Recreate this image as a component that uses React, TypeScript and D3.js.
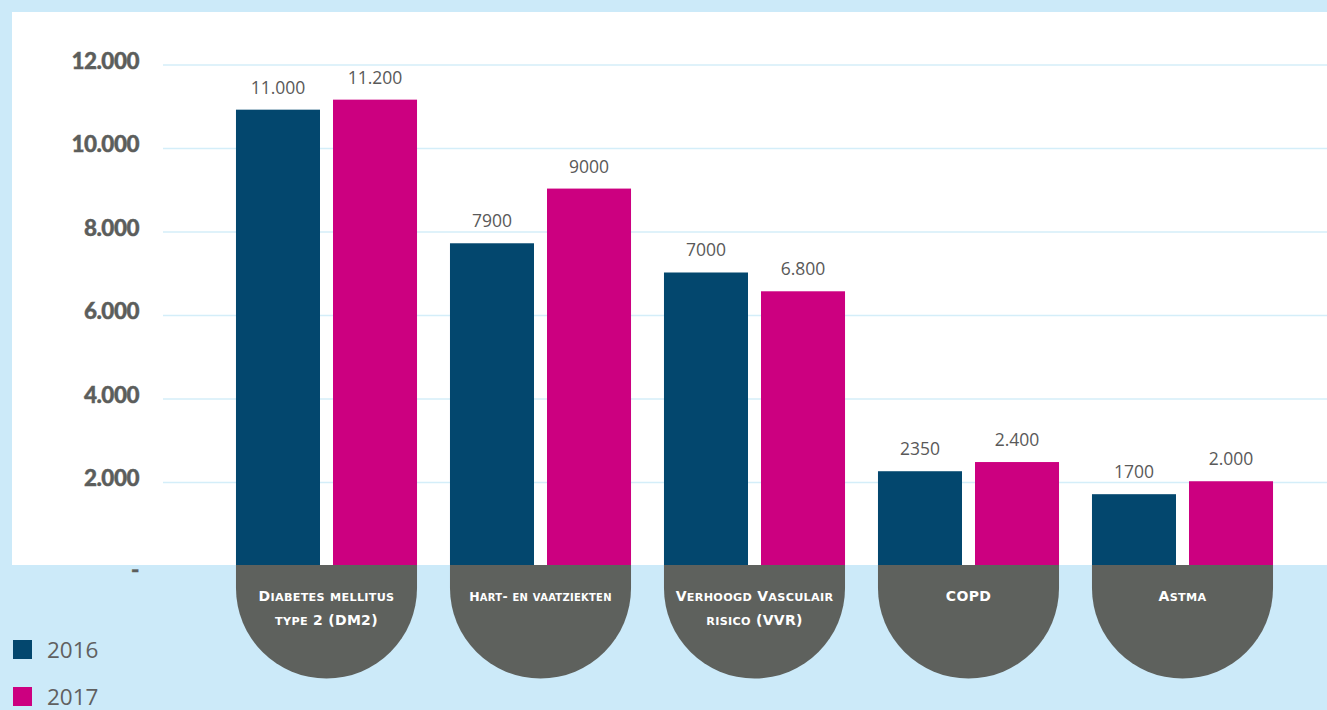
import { useEffect, useRef } from "react";
import * as d3 from "d3";

// categories: each label split into lines
const categories = ["DM2", "HVZ", "VVR", "COPD", "Astma"];
const categoryLines = [
  ["Diabetes mellitus", "type 2 (DM2)"],
  ["Hart- en vaatziekten"],
  ["Verhoogd Vasculair", "risico (VVR)"],
  ["COPD"],
  ["Astma"],
];
const series = ["2016", "2017"];
// bar heights
const values2016 = [10930, 7730, 7030, 2270, 1720];
const values2017 = [11170, 9040, 6580, 2490, 2030];
// the printed labels above the bars
const labels2016 = ["11.000", "7900", "7000", "2350", "1700"];
const labels2017 = ["11.200", "9000", "6.800", "2.400", "2.000"];
const yTicks = [0, 2000, 4000, 6000, 8000, 10000, 12000];
const yTickLabels = ["-", "2.000", "4.000", "6.000", "8.000", "10.000", "12.000"];

const W = 1327;
const H = 710;
const BG = "#cceaf9";
const COLORS = ["#03476e", "#cc0080"];
const PILL = "#5e615d";
const TEXT_GRAY = "#5c5e5c";

// split a string into runs of capitals / small caps
function smallCapRuns(s: string) {
  const runs: { t: string; small: boolean }[] = [];
  for (const ch of s) {
    const small = ch !== ch.toUpperCase();
    const last = runs[runs.length - 1];
    if (last && last.small === small) last.t += ch.toUpperCase();
    else runs.push({ t: ch.toUpperCase(), small });
  }
  return runs;
}

export default function App() {
  const svgRef = useRef<SVGSVGElement>(null);

  useEffect(() => {
    if (!svgRef.current) return;
    const svg = d3.select(svgRef.current);
    svg.selectAll("*").remove();

    const y = d3.scaleLinear().domain([0, 12000]).range([566, 65]);
    const x0 = d3
      .scaleBand<string>()
      .domain(categories)
      .range([219.5, 1289.5])
      .paddingInner(0.154)
      .paddingOuter(0.077);
    const x1 = d3
      .scaleBand<string>()
      .domain(series)
      .range([0, x0.bandwidth()])
      .paddingInner(0.134);

    const plotBottom = y(0) - 1;

    // background + white plot area
    svg.append("rect").attr("width", W).attr("height", H).attr("fill", BG);
    svg
      .append("rect")
      .attr("x", 12)
      .attr("y", 12)
      .attr("width", W - 12)
      .attr("height", plotBottom - 12)
      .attr("fill", "#ffffff");

    // gridlines
    svg
      .append("g")
      .selectAll("line")
      .data(yTicks.filter((t) => t > 0))
      .join("line")
      .attr("x1", 163)
      .attr("x2", W)
      .attr("y1", (d) => y(d))
      .attr("y2", (d) => y(d))
      .attr("stroke", "#d4eef9")
      .attr("stroke-width", 1.5);

    // y tick labels
    svg
      .append("g")
      .selectAll("text")
      .data(yTicks)
      .join("text")
      .attr("x", 139)
      .attr("y", (d) => (d === 0 ? y(d) + 12 : y(d) + 3.5))
      .attr("text-anchor", "end")
      .attr("font-family", "Lato, sans-serif")
      .attr("font-weight", 900)
      .attr("font-size", 22.5)
      .attr("letter-spacing", -0.5)
      .attr("stroke", TEXT_GRAY)
      .attr("stroke-width", 0.4)
      .attr("fill", TEXT_GRAY)
      .text((d, i) => yTickLabels[i]);

    // category "pills" below the axis
    const r = x0.bandwidth() / 2;
    const straight = 23;
    const pills = svg
      .append("g")
      .selectAll("g")
      .data(categories)
      .join("g")
      .attr("transform", (d) => `translate(${x0(d)},${plotBottom})`);

    pills
      .append("path")
      .attr(
        "d",
        `M0,0 H${2 * r} V${straight} A${r},${r} 0 0 1 0,${straight} Z`,
      )
      .attr("fill", PILL);

    pills.each(function (d, i) {
      const lines = categoryLines[i];
      const g = d3.select(this);
      lines.forEach((line, li) => {
        const big = 14;
        const small = 11.2;
        const t = g
          .append("text")
          .attr("x", r)
          .attr("y", 36 + li * 24)
          .attr("text-anchor", "middle")
          .attr("font-family", "'DejaVu Sans', sans-serif")
          .attr("font-weight", 700)
          .attr("letter-spacing", 0.3)
          .attr("fill", "#ffffff");
        const spans = t
          .selectAll("tspan")
          .data(smallCapRuns(line))
          .join("tspan")
          .attr("font-size", (s) => (s.small ? small : big))
          .text((s) => s.t);
        // single long lines are set smaller, as in the reference
        const node = t.node() as SVGTextElement;
        const w = node.getComputedTextLength();
        const maxW = lines.length === 1 ? 142 : 160;
        if (w > maxW) {
          const k = maxW / w;
          spans.attr("font-size", (s) => (s.small ? small : big) * k);
        }
      });
    });

    // bars
    const data = categories.map((c, i) => ({
      cat: c,
      bars: [
        { s: series[0], v: values2016[i], label: labels2016[i] },
        { s: series[1], v: values2017[i], label: labels2017[i] },
      ],
    }));

    const groups = svg
      .append("g")
      .selectAll("g")
      .data(data)
      .join("g")
      .attr("transform", (d) => `translate(${x0(d.cat)},0)`);

    groups
      .selectAll("rect")
      .data((d) => d.bars)
      .join("rect")
      .attr("x", (d) => x1(d.s)!)
      .attr("y", (d) => y(d.v))
      .attr("width", x1.bandwidth())
      .attr("height", (d) => plotBottom - y(d.v))
      .attr("fill", (d, i) => COLORS[i]);

    groups
      .selectAll("text")
      .data((d) => d.bars)
      .join("text")
      .attr("x", (d) => x1(d.s)! + x1.bandwidth() / 2)
      .attr("y", (d) => y(d.v) - 16)
      .attr("text-anchor", "middle")
      .attr("font-family", "'Open Sans', sans-serif")
      .attr("font-size", 17.5)
      .attr("fill", "#595959")
      .text((d) => d.label);

    // legend
    const legend = svg
      .append("g")
      .selectAll("g")
      .data(series)
      .join("g")
      .attr("transform", (d, i) => `translate(13,${640 + i * 47})`);
    legend
      .append("rect")
      .attr("width", 19)
      .attr("height", 19)
      .attr("fill", (d, i) => COLORS[i]);
    legend
      .append("text")
      .attr("x", 34)
      .attr("y", 17.5)
      .attr("font-family", "'Open Sans', sans-serif")
      .attr("font-size", 22.5)
      .attr("fill", "#606060")
      .text((d) => d);
  }, []);

  return (
    <div style={{ position: "fixed", left: 0, top: 0, width: W, height: H }}>
      <svg ref={svgRef} width={W} height={H} style={{ display: "block" }} />
    </div>
  );
}
